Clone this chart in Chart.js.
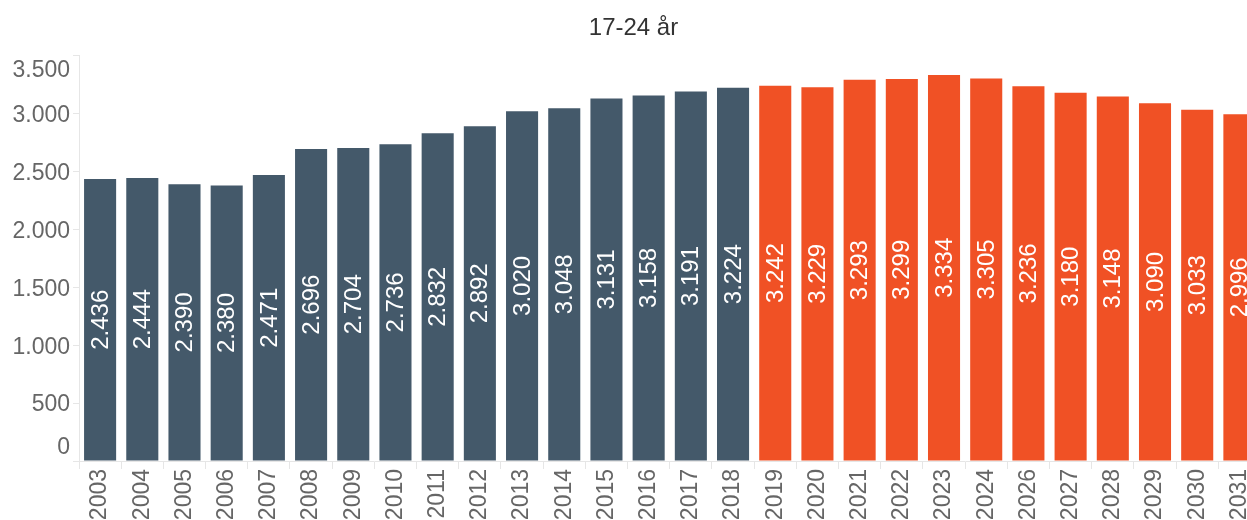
<!DOCTYPE html>
<html lang="sv">
<head>
    <meta charset="UTF-8">
    <title>17-24 år</title>
    <script src="https://cdn.jsdelivr.net/npm/chart.js"></script>
    <style>
        html, body { margin: 0; padding: 0; background: #fff; overflow: hidden; }
        /* chart is a bit wider than the window, last bar gets cut like in the original */
        #chart-container { width: 1267px; height: 520px; }
    </style>
</head>
<body>
    <div id="chart-container">
        <canvas id="ageChart" width="1267" height="520"></canvas>
    </div>

    <script>
        // Data
        const years = ["2003", "2004", "2005", "2006", "2007", "2008", "2009", "2010", "2011", "2012",
                       "2013", "2014", "2015", "2016", "2017", "2018", "2019", "2020", "2021", "2022",
                       "2023", "2024", "2026", "2027", "2028", "2029", "2030", "2031"];
        const persons = [2436, 2444, 2390, 2380, 2471, 2696, 2704, 2736, 2832, 2892,
                         3020, 3048, 3131, 3158, 3191, 3224, 3242, 3229, 3293, 3299,
                         3334, 3305, 3236, 3180, 3148, 3090, 3033, 2996];
        const firstForecastYear = "2019";
        const yTicks = [0, 500, 1000, 1500, 2000, 2500, 3000, 3500];

        const historyColor = "#44596a";
        const forecastColor = "#f05125";
        const fontFamily = "'Liberation Sans', Arial, sans-serif";

        function fmt(v) {
            return String(v).replace(/\B(?=(\d{3})+(?!\d))/g, ".");
        }

        const barColors = years.map(y => y >= firstForecastYear ? forecastColor : historyColor);

        // white rotated value labels in the middle of each bar
        const valueLabels = {
            id: "valueLabels",
            afterDatasetsDraw(chart) {
                const ctx = chart.ctx;
                const meta = chart.getDatasetMeta(0);
                ctx.save();
                ctx.font = "24px " + fontFamily;
                ctx.fillStyle = "#ffffff";
                ctx.textAlign = "center";
                ctx.textBaseline = "middle";
                meta.data.forEach((bar, i) => {
                    const midY = (bar.y + bar.base) / 2;
                    ctx.save();
                    ctx.translate(bar.x, midY);
                    ctx.rotate(-Math.PI / 2);
                    ctx.fillText(fmt(persons[i]), 0, 1);
                    ctx.restore();
                });
                ctx.restore();
            }
        };

        // y tick labels, the end ones are pulled inside the plot height
        const yLabels = {
            id: "yLabels",
            afterDraw(chart) {
                const ctx = chart.ctx;
                const scale = chart.scales.y;
                const area = chart.chartArea;
                ctx.save();
                ctx.font = "23px " + fontFamily;
                ctx.fillStyle = "#666666";
                ctx.textAlign = "right";
                ctx.textBaseline = "middle";
                yTicks.forEach(t => {
                    let y = scale.getPixelForValue(t) + 2;
                    y = Math.max(area.top + 15, Math.min(area.bottom - 13, y));
                    ctx.fillText(fmt(t), area.left - 9, y);
                });
                ctx.restore();
            }
        };

        const ctx = document.getElementById("ageChart").getContext("2d");
        new Chart(ctx, {
            type: "bar",
            data: {
                labels: years,
                datasets: [{
                    data: persons,
                    backgroundColor: barColors,
                    barPercentage: 0.76,
                    categoryPercentage: 1.0
                }]
            },
            options: {
                responsive: false,
                maintainAspectRatio: false,
                animation: false,
                layout: { padding: { left: 0, right: 0, top: 0, bottom: 0 } },
                plugins: {
                    legend: { display: false },
                    tooltip: { enabled: false },
                    title: {
                        display: true,
                        text: "17-24 år",
                        color: "#333333",
                        font: { family: fontFamily, size: 24, weight: "normal" },
                        padding: { top: 14, bottom: 13 }
                    }
                },
                scales: {
                    x: {
                        grid: {
                            offset: true,
                            drawOnChartArea: false,
                            color: "#e6e6e6",
                            tickLength: 8
                        },
                        border: { color: "#e6e6e6" },
                        ticks: {
                            color: "#666666",
                            font: { family: fontFamily, size: 23 },
                            minRotation: 90,
                            maxRotation: 90,
                            autoSkip: false,
                            padding: 0
                        },
                        afterFit(scale) { scale.height = 59; }
                    },
                    y: {
                        min: 0,
                        max: 3500,
                        ticks: { stepSize: 500, display: false },
                        grid: {
                            drawOnChartArea: false,
                            color: "#e6e6e6",
                            tickLength: 6
                        },
                        border: { color: "#e6e6e6" },
                        afterFit(scale) { scale.width = 79; }
                    }
                }
            },
            plugins: [valueLabels, yLabels]
        });
    </script>
</body>
</html>
